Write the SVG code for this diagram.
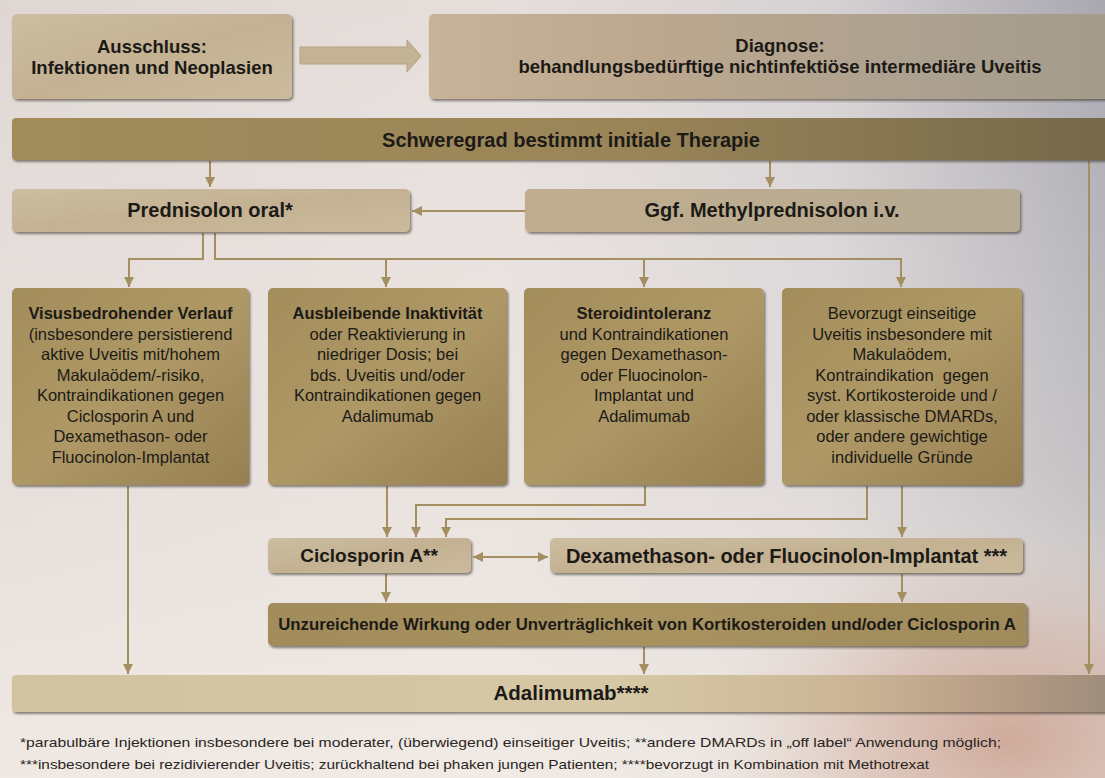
<svg xmlns="http://www.w3.org/2000/svg" width="1105" height="778" viewBox="0 0 1105 778">
<defs>
<linearGradient id="bgH" x1="0" y1="0" x2="1" y2="0">
<stop offset="0" stop-color="#e0d7d4"/>
<stop offset="0.45" stop-color="#e6dedb"/>
<stop offset="0.75" stop-color="#d6d1d3"/>
<stop offset="1" stop-color="#a9a8b0"/>
</linearGradient>
<linearGradient id="bgV" x1="0" y1="0" x2="0" y2="1">
<stop offset="0" stop-color="#ffffff" stop-opacity="0"/>
<stop offset="0.6" stop-color="#f2ede8" stop-opacity="0.35"/>
<stop offset="1" stop-color="#f4eee8" stop-opacity="0.75"/>
</linearGradient>
<radialGradient id="warm" cx="1010" cy="740" r="330" gradientTransform="translate(1010 740) scale(1 0.7) translate(-1010 -740)" gradientUnits="userSpaceOnUse">
<stop offset="0" stop-color="#c99a86" stop-opacity="0.75"/>
<stop offset="0.45" stop-color="#d3ad9c" stop-opacity="0.5"/>
<stop offset="1" stop-color="#e6d6cd" stop-opacity="0"/>
</radialGradient>
<linearGradient id="gTan" x1="0" y1="0" x2="1" y2="1">
<stop offset="0" stop-color="#cdbea1"/>
<stop offset="0.5" stop-color="#c3b192"/>
<stop offset="1" stop-color="#cbbb9c"/>
</linearGradient>
<linearGradient id="gDiag" x1="0" y1="0" x2="1" y2="0">
<stop offset="0" stop-color="#c7b398"/>
<stop offset="0.35" stop-color="#bba78e"/>
<stop offset="0.7" stop-color="#ada190"/>
<stop offset="1" stop-color="#a49b8a"/>
</linearGradient>
<linearGradient id="gBar" x1="0" y1="0" x2="1" y2="0">
<stop offset="0" stop-color="#a28c5c"/>
<stop offset="0.55" stop-color="#9a8558"/>
<stop offset="1" stop-color="#74684a"/>
</linearGradient>
<linearGradient id="gMeth" x1="0" y1="0" x2="1" y2="0">
<stop offset="0" stop-color="#c1ad8e"/>
<stop offset="1" stop-color="#b5aa93"/>
</linearGradient>
<linearGradient id="gMid" x1="0" y1="0" x2="1" y2="1">
<stop offset="0" stop-color="#a38d5b"/>
<stop offset="0.5" stop-color="#ae9866"/>
<stop offset="1" stop-color="#977f51"/>
</linearGradient>
<linearGradient id="gUnz" x1="0" y1="0" x2="1" y2="0">
<stop offset="0" stop-color="#a28c5b"/>
<stop offset="0.5" stop-color="#a8925f"/>
<stop offset="1" stop-color="#a08b5b"/>
</linearGradient>
<linearGradient id="gAda" x1="0" y1="0" x2="1" y2="0">
<stop offset="0" stop-color="#d1c39e"/>
<stop offset="0.55" stop-color="#d6c8a4"/>
<stop offset="0.75" stop-color="#cbb696"/>
<stop offset="0.88" stop-color="#b89e86"/>
<stop offset="1" stop-color="#9b8b7a"/>
</linearGradient>
<filter id="sh" x="-5%" y="-20%" width="110%" height="150%">
<feDropShadow dx="1.5" dy="2" stdDeviation="1" flood-color="#2e271c" flood-opacity="0.55"/>
</filter>
<marker id="ah" markerUnits="userSpaceOnUse" markerWidth="12" markerHeight="10" refX="10" refY="5" orient="auto-start-reverse">
<path d="M0,0 L10,5 L0,10 z" fill="#a38f5f"/>
</marker>
<style>
.t{font-family:"Liberation Sans",Arial,sans-serif;fill:#1c1a17;text-anchor:middle}
.b{font-weight:bold}
.s{font-size:16.5px}
.fn{font-family:"Liberation Sans",Arial,sans-serif;fill:#2a2522;font-size:13.5px}
.c{fill:none;stroke:#a38f5f;stroke-width:2}
</style>
</defs>
<rect x="0" y="0" width="1105" height="778" fill="url(#bgH)"/>
<rect x="0" y="0" width="1105" height="778" fill="url(#bgV)"/>
<rect x="0" y="0" width="1105" height="778" fill="url(#warm)"/>

<g id="connectors">
<polygon points="300,47 407,47 407,40 421,56 407,72 407,64 300,64" fill="#c3b293" stroke="#b3a283" stroke-width="1"/>
<path class="c" d="M210,161 V187" marker-end="url(#ah)"/>
<path class="c" d="M770,161 V187" marker-end="url(#ah)"/>
<path class="c" d="M525,211 H412" marker-end="url(#ah)"/>
<path class="c" d="M1089,161 V674" marker-end="url(#ah)"/>
<path class="c" d="M203,233 V259 H129 V287" marker-end="url(#ah)"/>
<path class="c" d="M215,233 V259 H901 V287" marker-end="url(#ah)"/>
<path class="c" d="M386,259 V287" marker-end="url(#ah)"/>
<path class="c" d="M644,259 V287" marker-end="url(#ah)"/>
<path class="c" d="M128,486 V674" marker-end="url(#ah)"/>
<path class="c" d="M387,486 V537" marker-end="url(#ah)"/>
<path class="c" d="M645,486 V505 H416 V537" marker-end="url(#ah)"/>
<path class="c" d="M867,486 V519 H446 V537" marker-end="url(#ah)"/>
<path class="c" d="M902,486 V537" marker-end="url(#ah)"/>
<path class="c" d="M473,557 H548" marker-start="url(#ah)" marker-end="url(#ah)"/>
<path class="c" d="M386,574 V602" marker-end="url(#ah)"/>
<path class="c" d="M902,574 V602" marker-end="url(#ah)"/>
<path class="c" d="M644,647 V674" marker-end="url(#ah)"/>
</g>

<g id="ausschluss">
<rect x="12" y="14" width="280" height="85" rx="5" fill="url(#gTan)" filter="url(#sh)"/>
<text class="t b" font-size="18.5" x="152" y="53">Ausschluss:</text>
<text class="t b" font-size="18.5" x="152" y="74">Infektionen und Neoplasien</text>
</g>

<g id="diagnose">
<rect x="429" y="14" width="690" height="85" rx="5" fill="url(#gDiag)" filter="url(#sh)"/>
<text class="t b" font-size="18.5" x="780" y="52">Diagnose:</text>
<text class="t b" font-size="18.5" x="780" y="73">behandlungsbedürftige nichtinfektiöse intermediäre Uveitis</text>
</g>

<g id="schweregrad">
<rect x="12" y="118" width="1110" height="42" rx="4" fill="url(#gBar)" filter="url(#sh)"/>
<text class="t b" font-size="20" x="571" y="147">Schweregrad bestimmt initiale Therapie</text>
</g>

<g id="prednisolon">
<rect x="12" y="189" width="398" height="43" rx="5" fill="url(#gTan)" filter="url(#sh)"/>
<text class="t b" font-size="20" x="210" y="217">Prednisolon oral*</text>
</g>

<g id="methylprednisolon">
<rect x="525" y="189" width="495" height="43" rx="5" fill="url(#gMeth)" filter="url(#sh)"/>
<text class="t b" font-size="20" x="772" y="217">Ggf. Methylprednisolon i.v.</text>
</g>

<g id="visus">
<rect x="12" y="288" width="237" height="197" rx="5" fill="url(#gMid)" filter="url(#sh)"/>
<text class="t s" x="130.5" y="319"><tspan class="b">Visusbedrohender Verlauf</tspan><tspan x="130.5" dy="20.5">(insbesondere persistierend</tspan><tspan x="130.5" dy="20.5">aktive Uveitis mit/hohem</tspan><tspan x="130.5" dy="20.5">Makulaödem/-risiko,</tspan><tspan x="130.5" dy="20.5">Kontraindikationen gegen</tspan><tspan x="130.5" dy="20.5">Ciclosporin A und</tspan><tspan x="130.5" dy="20.5">Dexamethason- oder</tspan><tspan x="130.5" dy="20.5">Fluocinolon-Implantat</tspan></text>
</g>

<g id="ausbleibend">
<rect x="268" y="288" width="239" height="197" rx="5" fill="url(#gMid)" filter="url(#sh)"/>
<text class="t s" x="387.5" y="319"><tspan class="b">Ausbleibende Inaktivität</tspan><tspan x="387.5" dy="20.5">oder Reaktivierung in</tspan><tspan x="387.5" dy="20.5">niedriger Dosis; bei</tspan><tspan x="387.5" dy="20.5">bds. Uveitis und/oder</tspan><tspan x="387.5" dy="20.5">Kontraindikationen gegen</tspan><tspan x="387.5" dy="20.5">Adalimumab</tspan></text>
</g>

<g id="steroid">
<rect x="524" y="288" width="240" height="197" rx="5" fill="url(#gMid)" filter="url(#sh)"/>
<text class="t s" x="644" y="319"><tspan class="b">Steroidintoleranz</tspan><tspan x="644" dy="20.5">und Kontraindikationen</tspan><tspan x="644" dy="20.5">gegen Dexamethason-</tspan><tspan x="644" dy="20.5">oder Fluocinolon-</tspan><tspan x="644" dy="20.5">Implantat und</tspan><tspan x="644" dy="20.5">Adalimumab</tspan></text>
</g>

<g id="bevorzugt">
<rect x="782" y="288" width="240" height="197" rx="5" fill="url(#gMid)" filter="url(#sh)"/>
<text class="t s" x="902" y="319"><tspan>Bevorzugt einseitige</tspan><tspan x="902" dy="20.5">Uveitis insbesondere mit</tspan><tspan x="902" dy="20.5">Makulaödem,</tspan><tspan x="902" dy="20.5" xml:space="preserve">Kontraindikation  gegen</tspan><tspan x="902" dy="20.5">syst. Kortikosteroide und /</tspan><tspan x="902" dy="20.5">oder klassische DMARDs,</tspan><tspan x="902" dy="20.5">oder andere gewichtige</tspan><tspan x="902" dy="20.5">individuelle Gründe</tspan></text>
</g>

<g id="ciclosporin">
<rect x="268" y="538" width="203" height="35" rx="5" fill="url(#gTan)" filter="url(#sh)"/>
<text class="t b" font-size="19" x="369" y="562">Ciclosporin A**</text>
</g>

<g id="implantat">
<rect x="550" y="538" width="473" height="35" rx="5" fill="url(#gTan)" filter="url(#sh)"/>
<text class="t b" font-size="20" x="786.5" y="563">Dexamethason- oder Fluocinolon-Implantat ***</text>
</g>

<g id="unzureichend">
<rect x="268" y="603" width="759" height="43" rx="5" fill="url(#gUnz)" filter="url(#sh)"/>
<text class="t b" font-size="16.8" x="647" y="630">Unzureichende Wirkung oder Unverträglichkeit von Kortikosteroiden und/oder Ciclosporin A</text>
</g>

<g id="adalimumab">
<rect x="12" y="675" width="1110" height="37" rx="4" fill="url(#gAda)" filter="url(#sh)"/>
<text class="t b" font-size="20.5" x="571" y="700">Adalimumab****</text>
</g>

<g id="footnotes">
<text class="fn" x="20" y="747" textLength="981" lengthAdjust="spacingAndGlyphs">*parabulbäre Injektionen insbesondere bei moderater, (überwiegend) einseitiger Uveitis; **andere DMARDs in „off label“ Anwendung möglich;</text>
<text class="fn" x="20" y="769" textLength="909" lengthAdjust="spacingAndGlyphs">***insbesondere bei rezidivierender Uveitis; zurückhaltend bei phaken jungen Patienten; ****bevorzugt in Kombination mit Methotrexat</text>
</g>
</svg>
